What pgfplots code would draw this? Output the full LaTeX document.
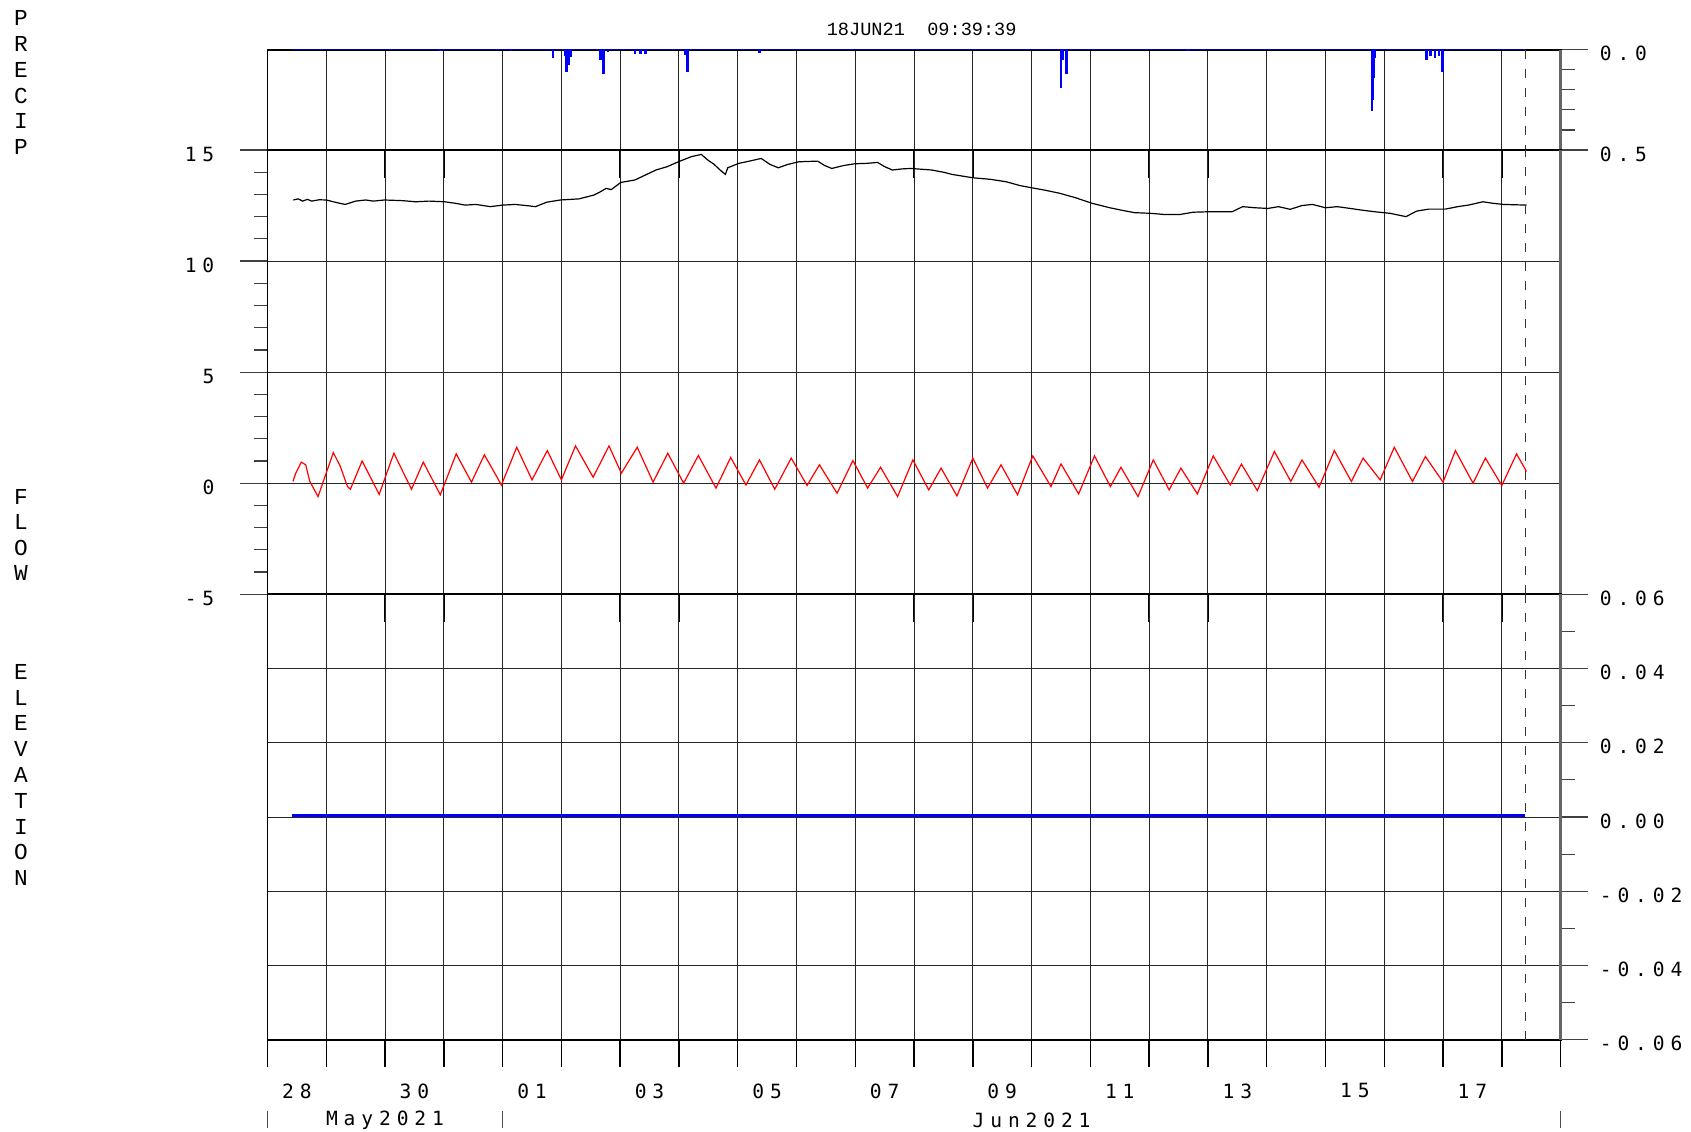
\documentclass[border=0pt]{standalone}
\usepackage{fontspec}
\setmainfont{Liberation Sans}
\newfontfamily\tickfont[LetterSpace=30]{DejaVu Sans Mono}
\newfontfamily\monofont{Liberation Mono}
\usepackage{pgfplots}
\pgfplotsset{compat=1.18}

% 1 px of the reference = 0.5pt; one day = 29.389pt
\pgfplotsset{
  panel/.style={
    scale only axis, width=646.55pt, anchor=north west,
    xmin=0, xmax=22, xtick={0,1,...,22}, xticklabels={},
    scaled y ticks=false, scaled x ticks=false,
    xmajorgrids, major x grid style={black!85, line width=0.5pt},
    major y grid style={black!85, line width=0.5pt},
    axis line style={black, line width=0.9pt},
    tick align=outside, xtick pos=bottom,
    major tick length=13.8pt, minor tick length=7pt,
    every tick/.append style={black!75, line width=0.6pt},
    major x tick style={black, line width=0.7pt},
    tick label style={font=\tickfont\fontsize{9.8pt}{11pt}\selectfont, inner sep=0pt},
    clip=false,
  },
}
\tikzset{
  rightborder/.style={black!60, line width=1.6pt},
  nowline/.style={black!80, line width=0.5pt, dash pattern=on 4.5pt off 5pt},
}

\begin{document}
\begin{tikzpicture}
\useasboundingbox (0,0) rectangle (845.5pt,-565.5pt);

% ---------------- PRECIP ----------------
\begin{axis}[panel, at={(133.75pt,-24.8pt)}, height=50.2pt,
  y dir=reverse, ymin=0, ymax=0.5,
  ytick={0,0.5}, yticklabels={0.0,0.5}, minor ytick={0.1,0.2,0.3,0.4},
  ytick pos=right,
  yticklabel style={anchor=west, xshift=5.6pt, yshift=-2pt},
]
\addplot[blue!70!black, line width=0.6pt, mark=none] coordinates {(0.42,0) (21.4,0)};
\addplot[blue, ycomb, line width=1.3pt, mark=none] coordinates {
  (2.94,0.008) (4.14,0.008) (4.86,0.04) (5.06,0.03) (5.09,0.11) (5.13,0.075)
  (5.16,0.035) (5.67,0.05) (5.72,0.12) (5.79,0.01) (6.25,0.02) (6.35,0.02)
  (6.43,0.02) (7.10,0.025) (7.15,0.11) (8.37,0.015) (13.50,0.19) (13.53,0.05)
  (13.59,0.12) (15.65,0.005) (18.79,0.305) (18.80,0.25) (18.82,0.14) (18.84,0.04)
  (19.72,0.05) (19.79,0.033) (19.86,0.04) (19.93,0.03) (19.99,0.11)
};
\addplot[nowline] coordinates {(21.402,0) (21.402,0.5)};
\draw[rightborder] (rel axis cs:1,0) -- (rel axis cs:1,1);
\end{axis}

% ---------------- FLOW ----------------
\begin{axis}[panel, at={(133.75pt,-75pt)}, height=222.15pt,
  ymin=-5, ymax=15,
  ytick={-5,0,5,10,15}, yticklabels={-5,0,5,10,15},
  minor ytick={-4,-3,...,14},
  ytick pos=left, ymajorgrids,
  yticklabel style={anchor=east, xshift=-12.6pt, yshift=-2pt},
]
\addplot[black, line width=0.6pt, mark=none] coordinates {
  (0.44,12.75) (0.52,12.80) (0.60,12.70) (0.68,12.78) (0.75,12.70) (0.88,12.76)
  (1.00,12.75) (1.15,12.65) (1.32,12.55) (1.50,12.70) (1.67,12.75) (1.80,12.70)
  (1.99,12.75) (2.30,12.72) (2.52,12.67) (2.75,12.70) (3.01,12.67) (3.20,12.60)
  (3.36,12.52) (3.55,12.55) (3.79,12.45) (4.00,12.52) (4.21,12.55) (4.40,12.50)
  (4.56,12.45) (4.75,12.65) (4.98,12.75) (5.30,12.80) (5.55,12.97) (5.65,13.10)
  (5.76,13.27) (5.85,13.22) (6.01,13.54) (6.25,13.65) (6.45,13.90) (6.61,14.10)
  (6.80,14.25) (6.99,14.47) (7.21,14.70) (7.38,14.80) (7.49,14.55) (7.60,14.35)
  (7.70,14.10) (7.79,13.90) (7.83,14.20) (8.02,14.40) (8.20,14.50) (8.40,14.62)
  (8.55,14.35) (8.69,14.20) (8.85,14.35) (9.04,14.47) (9.36,14.50) (9.48,14.30)
  (9.60,14.17) (9.80,14.30) (9.99,14.38) (10.20,14.40) (10.38,14.44) (10.50,14.25)
  (10.63,14.10) (10.80,14.15) (10.94,14.17) (11.30,14.10) (11.50,14.00) (11.65,13.90)
  (12.00,13.75) (12.30,13.68) (12.57,13.57) (12.80,13.40) (13.00,13.30) (13.25,13.18)
  (13.48,13.05) (13.75,12.85) (14.03,12.60) (14.33,12.40) (14.55,12.28) (14.75,12.18)
  (15.02,12.15) (15.25,12.10) (15.53,12.10) (15.75,12.20) (16.00,12.22) (16.41,12.22)
  (16.59,12.45) (16.80,12.40) (17.02,12.37) (17.20,12.45) (17.40,12.33) (17.60,12.50)
  (17.78,12.55) (18.00,12.40) (18.20,12.45) (18.42,12.37) (18.60,12.30) (18.84,12.22)
  (19.10,12.15) (19.37,12.00) (19.55,12.25) (19.76,12.34) (20.04,12.34) (20.25,12.45)
  (20.43,12.52) (20.68,12.67) (20.85,12.60) (21.03,12.55) (21.42,12.52)
};
\addplot[red, line width=0.6pt, mark=none] coordinates {
  (0.433,0.08) (0.48,0.45) (0.575,0.95) (0.65,0.83) (0.72,0.08) (0.86,-0.60)
  (1.12,1.38) (1.24,0.75) (1.36,-0.15) (1.41,-0.27) (1.61,1.00) (1.90,-0.50)
  (2.15,1.35) (2.45,-0.27) (2.65,0.95) (2.94,-0.52) (3.21,1.32) (3.47,0.05)
  (3.69,1.28) (3.98,-0.08) (4.24,1.62) (4.50,0.15) (4.76,1.47) (5.00,0.15)
  (5.24,1.68) (5.54,0.27) (5.81,1.68) (6.02,0.45) (6.29,1.62) (6.56,0.05)
  (6.81,1.35) (7.08,0.00) (7.33,1.25) (7.63,-0.22) (7.88,1.16) (8.14,-0.08)
  (8.37,1.05) (8.63,-0.27) (8.91,1.13) (9.18,-0.10) (9.39,0.83) (9.69,-0.45)
  (9.96,1.02) (10.21,-0.22) (10.43,0.72) (10.72,-0.60) (10.98,1.05) (11.25,-0.30)
  (11.46,0.68) (11.73,-0.57) (12.00,1.13) (12.25,-0.22) (12.48,0.83) (12.76,-0.52)
  (13.02,1.23) (13.33,-0.15) (13.50,0.87) (13.80,-0.48) (14.07,1.23) (14.34,-0.15)
  (14.52,0.72) (14.81,-0.60) (15.07,1.05) (15.34,-0.30) (15.54,0.68) (15.82,-0.48)
  (16.09,1.23) (16.38,-0.08) (16.57,0.86) (16.84,-0.33) (17.13,1.43) (17.41,0.08)
  (17.60,1.05) (17.89,-0.18) (18.15,1.47) (18.44,0.08) (18.64,1.13) (18.93,0.15)
  (19.17,1.62) (19.48,0.08) (19.70,1.20) (20.00,0.05) (20.21,1.47) (20.51,0.00)
  (20.72,1.13) (21.00,-0.10) (21.25,1.32) (21.42,0.53)
};
\addplot[nowline] coordinates {(21.402,-5) (21.402,15)};
\draw[rightborder] (rel axis cs:1,0) -- (rel axis cs:1,1);
\end{axis}

% ---------------- ELEVATION ----------------
\begin{axis}[panel, at={(133.75pt,-297.15pt)}, height=222.7pt,
  ymin=-0.06, ymax=0.06,
  ytick={-0.06,-0.04,-0.02,0,0.02,0.04,0.06},
  yticklabels={-0.06,-0.04,-0.02,0.00,0.02,0.04,0.06},
  minor ytick={-0.05,-0.03,-0.01,0.01,0.03,0.05},
  ytick pos=right, ymajorgrids,
  yticklabel style={anchor=west, xshift=5.6pt, yshift=-2pt},
  extra x ticks={0.5,2.5,...,20.5},
  extra x tick labels={28,30,01,03,05,07,09,11,13,15,17},
  extra x tick style={grid=none, major tick length=0pt},
  xticklabel style={anchor=center, yshift=-25.6pt},
]
\addplot[blue, line width=1.5pt, mark=none] coordinates {(0.42,0.0003) (21.40,0.0003)};
\addplot[nowline] coordinates {(21.402,-0.06) (21.402,0.06)};
\draw[rightborder] (rel axis cs:1,0) -- (rel axis cs:1,1);
\end{axis}

% month labels and separators
\node[font=\tickfont\fontsize{9.8pt}{11pt}\selectfont] at (192.5pt,-560pt) {May2021};
\node[font=\tickfont\fontsize{9.8pt}{11pt}\selectfont] at (515.8pt,-560pt) {Jun2021};
\foreach \xx in {133.75,251.3,780.3}
  \draw[black!70, line width=0.5pt] (\xx pt,-555.5pt) -- (\xx pt,-564pt);

% title and stacked panel names
\node[font=\monofont\fontsize{9.3pt}{11pt}\selectfont] at (460.85pt,-14.5pt) {18JUN21\ \ 09:39:39};
\node[font=\monofont\fontsize{11.4pt}{12.9pt}\selectfont, align=center, inner sep=0pt]
  at (10.5pt,-41.3pt) {P\\R\\E\\C\\I\\P};
\node[font=\monofont\fontsize{11.4pt}{12.65pt}\selectfont, align=center, inner sep=0pt]
  at (10.5pt,-267.5pt) {F\\L\\O\\W};
\node[font=\monofont\fontsize{11.4pt}{12.9pt}\selectfont, align=center, inner sep=0pt]
  at (10.5pt,-387.5pt) {E\\L\\E\\V\\A\\T\\I\\O\\N};
\end{tikzpicture}
\end{document}
